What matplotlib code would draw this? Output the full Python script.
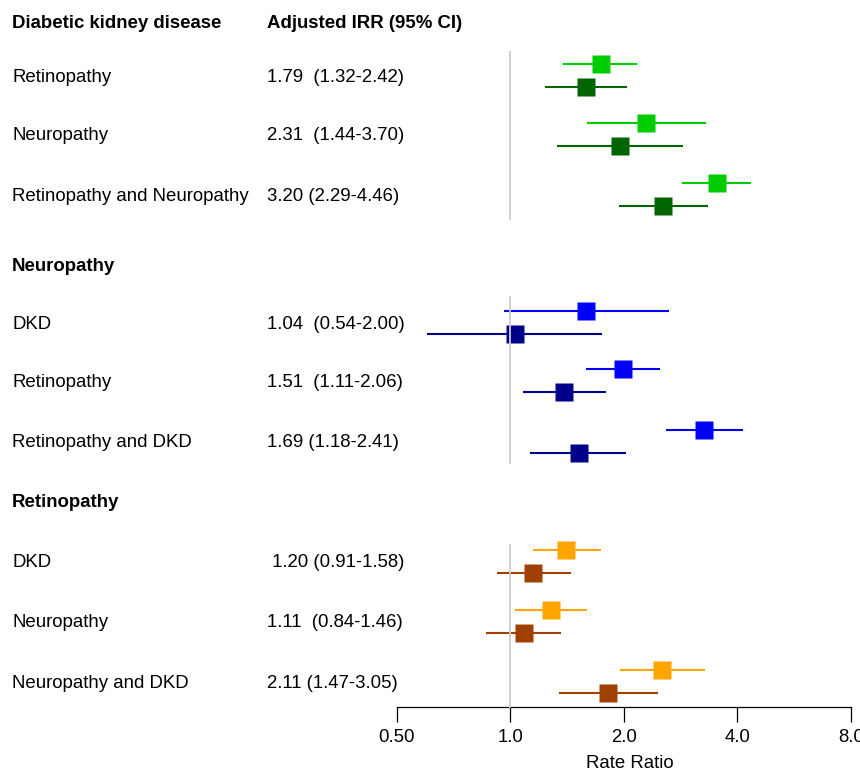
import matplotlib
matplotlib.use('Agg')
import matplotlib.pyplot as plt
from matplotlib import transforms
from matplotlib.ticker import FixedLocator, FixedFormatter, NullLocator

plt.rcParams['font.family'] = ['Liberation Sans', 'DejaVu Sans']

# ---------------- data ----------------
section_titles = ["Diabetic kidney disease", "Neuropathy", "Retinopathy"]
row_labels = [
    ["Retinopathy", "Neuropathy", "Retinopathy and Neuropathy"],
    ["DKD", "Retinopathy", "Retinopathy and DKD"],
    ["DKD", "Neuropathy", "Neuropathy and DKD"],
]
irr_text = [
    ["1.79  (1.32-2.42)", "2.31  (1.44-3.70)", "3.20 (2.29-4.46)"],
    ["1.04  (0.54-2.00)", "1.51  (1.11-2.06)", "1.69 (1.18-2.41)"],
    [" 1.20 (0.91-1.58)", "1.11  (0.84-1.46)", "2.11 (1.47-3.05)"],
]
header_col2 = "Adjusted IRR (95% CI)"

# upper (lighter) series
upper_est = [[1.74, 2.29, 3.53], [1.59, 1.99, 3.27], [1.41, 1.28, 2.53]]
upper_lo = [[1.38, 1.60, 2.85], [0.96, 1.59, 2.59], [1.15, 1.03, 1.96]]
upper_hi = [[2.17, 3.30, 4.35], [2.64, 2.50, 4.14], [1.74, 1.60, 3.29]]
# lower (darker) series
lower_est = [[1.59, 1.96, 2.55], [1.03, 1.39, 1.52], [1.15, 1.09, 1.82]]
lower_lo = [[1.24, 1.33, 1.94], [0.60, 1.08, 1.13], [0.92, 0.86, 1.35]]
lower_hi = [[2.04, 2.87, 3.34], [1.75, 1.79, 2.03], [1.45, 1.36, 2.46]]

x_ticks = [0.5, 1.0, 2.0, 4.0, 8.0]
x_tick_labels = ["0.50", "1.0", "2.0", "4.0", "8.0"]
x_label = "Rate Ratio"

# ---------------- layout / style ----------------
W, H = 860, 772
AX_L, AX_R, AX_B = 396.7, 850.7, 707.0
header_base = [27.7, 270.7, 506.7]
row_center = [[75.5, 134.5, 194.7], [322.7, 380.7, 441.2], [561.0, 621.0, 681.6]]
ref_spans = [(52, 219), (297, 463), (545, 707)]
pair_off = 11.5
text_off = 6.0
col1_x, col2_x = 12.0, 266.7
fs = 13.4
colors_upper = ["#00CC00", "#0000FF", "#FFA500"]
colors_lower = ["#006400", "#00008B", "#A04000"]

fig = plt.figure(figsize=(W / 100, H / 100), dpi=100)
ax = fig.add_axes([AX_L / W, (H - AX_B) / H, (AX_R - AX_L) / W, AX_B / H])
ax.set_xscale('log', base=2)
ax.set_xlim(x_ticks[0], x_ticks[-1])
ax.set_ylim(AX_B, 0)

trans = transforms.blended_transform_factory(fig.transFigure, ax.transData)

ax.text(col2_x / W, header_base[0], header_col2, transform=trans, fontsize=fs,
        fontweight='bold', va='baseline', ha='left', clip_on=False)

for s in range(3):
    ax.text(col1_x / W, header_base[s], section_titles[s], transform=trans, fontsize=fs,
            fontweight='bold', va='baseline', ha='left', clip_on=False)
    a, b = ref_spans[s]
    ax.plot([1.0, 1.0], [a, b], color='#CCCCCC', lw=1.3, zorder=5, clip_on=False)
    for r in range(3):
        yc = row_center[s][r]
        ax.text(col1_x / W, yc + text_off, row_labels[s][r], transform=trans, fontsize=fs,
                va='baseline', ha='left', clip_on=False)
        ax.text(col2_x / W, yc + text_off, irr_text[s][r], transform=trans, fontsize=fs,
                va='baseline', ha='left', clip_on=False)
        yu, yl = yc - pair_off, yc + pair_off
        ax.plot([upper_lo[s][r], upper_hi[s][r]], [yu, yu], color=colors_upper[s], lw=1.5,
                solid_capstyle='butt', zorder=3, clip_on=False)
        ax.plot([upper_est[s][r]], [yu], 's', ms=12.7, color=colors_upper[s], mec='none',
                zorder=4, clip_on=False)
        ax.plot([lower_lo[s][r], lower_hi[s][r]], [yl, yl], color=colors_lower[s], lw=1.5,
                solid_capstyle='butt', zorder=3, clip_on=False)
        ax.plot([lower_est[s][r]], [yl], 's', ms=12.7, color=colors_lower[s], mec='none',
                zorder=4, clip_on=False)

for sp in ['top', 'left', 'right']:
    ax.spines[sp].set_visible(False)
ax.spines['bottom'].set_linewidth(0.9)
ax.yaxis.set_major_locator(NullLocator())
ax.yaxis.set_minor_locator(NullLocator())
ax.xaxis.set_major_locator(FixedLocator(x_ticks))
ax.xaxis.set_major_formatter(FixedFormatter(x_tick_labels))
ax.xaxis.set_minor_locator(NullLocator())
ax.tick_params(axis='x', direction='out', length=10.8, width=0.9, labelsize=fs, pad=5)
ax.patch.set_visible(False)

fig.text(630 / W, (H - 768) / H, x_label, fontsize=fs, ha='center', va='baseline')

fig.savefig('out.png', dpi=100)
